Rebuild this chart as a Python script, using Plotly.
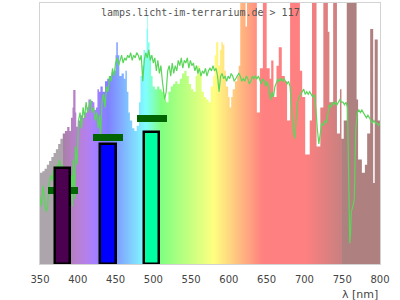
import plotly.graph_objects as go

# ---------------- data ----------------
spec_nm = [350, 353, 356, 359, 362, 365, 368, 371, 374, 377, 380, 383, 386, 389, 391, 393, 394, 397, 398,
           400, 403, 406, 409, 412, 414, 417, 420, 422, 424, 426, 428, 430, 433, 436, 439, 442, 445, 448,
           450, 451, 453, 455, 458, 461, 463, 465, 467, 469, 472, 475, 478, 481, 483, 485, 487, 489, 491,
           492, 493, 495, 497, 499, 502, 505, 508, 511, 514, 517, 520, 523, 526, 529, 532, 535, 538, 541,
           544, 547, 550, 553, 556, 558, 561, 564, 567, 570, 573, 576, 579, 581, 583, 586, 588, 590, 592,
           594, 596, 599, 601, 603, 605, 608, 611, 613, 615, 622, 624, 632, 637, 641, 645, 650, 654, 656,
           659, 663, 666, 670, 674, 677, 681, 694, 697, 701, 707, 710, 716, 721, 725, 731, 733, 738, 743,
           747, 749, 752, 756, 769, 771, 776, 780, 783, 787, 791, 793, 797, 800]
spec_val = [35, 35.5, 36.5, 38, 39.5, 41, 42.5, 44, 46, 48, 50, 51, 52.5, 51, 56, 60, 66.7, 58, 52.6,
            55, 57, 56, 58, 60, 63, 62.5, 62, 59, 60, 67, 66, 68, 66, 70, 71, 72, 73.5, 74,
            80, 85, 80, 72, 73, 71, 74, 66, 58, 55, 52, 51, 53, 62, 72, 76, 82, 80, 90,
            95, 85, 80, 72, 68, 67, 68, 67, 66, 63, 62, 66, 68, 69, 70, 69, 71, 73, 74,
            72, 69, 67, 66, 72, 76, 73, 66, 64, 63, 62, 68, 72, 80, 85, 76, 82, 85, 84,
            74, 68, 64, 60, 64, 67, 70, 72, 76, 110, 91, 110, 110, 58, 75, 110, 75, 71, 78,
            64, 76, 83, 72, 70, 55, 110, 74, 64, 42, 55, 110, 45, 60, 110, 89, 62, 110, 50,
            67, 48, 55, 110, 63, 40, 35, 38, 50, 90, 31, 86, 55, 55]

ref_nm = [350, 352, 354, 356, 358, 360, 362, 364, 366, 368, 370, 372, 374, 376, 378, 380, 382, 384, 386, 388,
          390, 392, 393, 394, 396, 397, 399, 401, 403, 405, 407, 409, 411, 413, 415, 417, 419, 421, 423, 425,
          427, 429, 430, 432, 434, 436, 438, 440, 442, 444, 446, 448, 450, 452, 454, 456, 458, 460, 462, 464,
          466, 468, 470, 472, 474, 476, 478, 480, 482, 484, 486, 488, 490, 492, 494, 496, 498, 500, 502, 504,
          506, 508, 510, 512, 515, 517, 519, 521, 523, 525, 527, 529, 531, 533, 535, 537, 539, 541, 543, 545,
          547, 549, 551, 553, 555, 557, 559, 561, 563, 565, 567, 569, 571, 573, 575, 577, 579, 581, 583, 585,
          587, 589, 591, 593, 595, 597, 599, 601, 603, 605, 607, 609, 611, 613, 615, 617, 619, 621, 623, 625,
          627, 629, 631, 633, 635, 637, 639, 641, 643, 645, 647, 649, 651, 653, 655, 657, 659, 661, 663, 665,
          667, 669, 671, 673, 675, 677, 679, 681, 683, 685, 687, 689, 691, 693, 695, 697, 699, 701, 703, 705,
          707, 709, 711, 713, 715, 717, 719, 721, 723, 725, 727, 729, 731, 733, 735, 737, 739, 741, 743, 745,
          747, 749, 751, 753, 755, 757, 759, 760, 761, 762, 764, 766, 767, 768, 770, 772, 774, 776, 778, 780,
          782, 784, 786, 788, 790, 792, 794, 796, 798, 800]
ref_val = [26, 22, 30, 24, 20, 22, 30, 34, 32, 36, 33, 38, 36, 40, 35, 38, 30, 36, 28, 34,
           20, 34, 22, 40, 25, 45, 38, 55, 58, 52, 60, 56, 62, 58, 60, 63, 58, 60, 55, 58,
           52, 57, 48, 62, 65, 60, 68, 66, 72, 70, 75, 72, 77, 79, 76, 78, 80, 77, 79, 78,
           80, 79, 81, 78, 80, 79, 81, 80, 78, 80, 70, 78, 81, 79, 82, 78, 80, 77, 79, 74,
           78, 73, 76, 70, 63, 66, 74, 76, 72, 77, 73, 76, 74, 78, 76, 79, 75, 78, 77, 79,
           75, 78, 76, 77, 74, 76, 73, 75, 72, 74, 73, 75, 72, 74, 75, 74, 76, 74, 75, 72,
           66, 72, 73, 71, 72, 70, 72, 71, 73, 72, 70, 71, 72, 73, 72, 70, 71, 70, 72, 71,
           69, 70, 72, 71, 72, 71, 72, 70, 69, 71, 70, 68, 70, 67, 63, 66, 64, 68, 70, 71,
           70, 71, 70, 71, 70, 69, 70, 68, 60, 52, 48, 55, 62, 64, 65, 66, 67, 65, 66, 65,
           66, 65, 64, 65, 60, 52, 46, 50, 54, 53, 55, 54, 58, 61, 60, 62, 61, 62, 61, 62,
           63, 62, 62, 61, 62, 60, 30, 8, 12, 20, 22, 25, 40, 52, 58, 59, 58, 59, 58, 57,
           56, 57, 56, 55, 54, 55, 54, 54, 53, 54]

band_center = [380, 440, 498]
band_width = [20, 20, 20]
band_value = [36.9, 46.1, 50.5]
band_colors = ["rgb(75,0,80)", "rgb(0,0,255)", "rgb(0,255,160)"]

mark_value = [28.2, 48.5, 55.7]
mark_width = [40, 40, 40]

x_ticks = [350, 400, 450, 500, 550, 600, 650, 700, 750, 800]
title_text = "lamps.licht-im-terrarium.de > 117"
x_label = "λ [nm]"

X_MIN, X_MAX = 350, 800
Y_MIN, Y_MAX = 0, 100


# ---------------- colour of each wavelength ----------------
def wl_color(w):
    if w < 380:
        return (172, 165, 172)
    if w >= 750:
        return (175, 128, 128)
    if w < 440:
        r, g, b = -(w - 440) / 60.0, 0.0, 1.0
    elif w < 490:
        r, g, b = 0.0, (w - 440) / 50.0, 1.0
    elif w < 510:
        r, g, b = 0.0, 1.0, -(w - 510) / 20.0
    elif w < 580:
        r, g, b = (w - 510) / 70.0, 1.0, 0.0
    elif w < 645:
        r, g, b = 1.0, -(w - 645) / 65.0, 0.0
    else:
        r, g, b = 1.0, 0.0, 0.0
    if w < 420:
        f = 0.3 + 0.7 * (w - 380) / 40.0
    elif w > 700:
        f = 0.3 + 0.7 * (780 - w) / 80.0
    else:
        f = 1.0
    return tuple(int(round(127.5 + 127.5 * c * f)) for c in (r, g, b))


stops = [w for w in range(350, 801, 2)] + [379.9, 749.9]
stops = sorted(set(stops))
cscale = []
for w in stops:
    c = wl_color(w)
    cscale.append([(w - X_MIN) / (X_MAX - X_MIN), "rgb(%d,%d,%d)" % c])

fig = go.Figure()

# spectrum filled with rainbow gradient
fig.add_trace(go.Scatter(
    x=spec_nm, y=spec_val, mode="lines", line=dict(width=0, shape="hv"),
    fill="tozeroy",
    fillgradient=dict(type="horizontal", colorscale=cscale, start=X_MIN, stop=X_MAX),
    hoverinfo="skip", showlegend=False))

# reference green curve
fig.add_trace(go.Scatter(
    x=ref_nm, y=ref_val, mode="lines", line=dict(color="rgb(90,214,90)", width=1.2),
    showlegend=False))

# markers (dark green) and bars on overlay axes so they sit on top
mark_thick = 2.7
fig.add_trace(go.Bar(
    x=band_center, y=[mark_thick] * len(mark_value),
    base=[v - mark_thick / 2 for v in mark_value], width=mark_width,
    marker=dict(color="rgb(0,100,0)", line=dict(width=0)),
    xaxis="x2", yaxis="y2", showlegend=False))
fig.add_trace(go.Bar(
    x=band_center, y=band_value, width=band_width,
    marker=dict(color=band_colors, line=dict(color="black", width=2.5)),
    xaxis="x2", yaxis="y2", showlegend=False))

fig.add_annotation(
    text=title_text, xref="paper", yref="paper", x=0.472, y=0.9655,
    xanchor="center", yanchor="middle", showarrow=False,
    font=dict(family="DejaVu Sans Mono", size=10, color="#555555"))
fig.add_annotation(
    text=x_label, xref="paper", yref="paper", x=1.0, y=-0.117,
    xanchor="right", yanchor="middle", showarrow=False,
    font=dict(family="DejaVu Sans", size=11, color="#444444"))

fig.update_layout(
    width=400, height=300,
    margin=dict(l=40, r=20, t=3, b=36),
    paper_bgcolor="white", plot_bgcolor="white",
    barmode="overlay", bargap=0,
    xaxis=dict(range=[X_MIN, X_MAX], tickvals=x_ticks, ticks="", showgrid=False, zeroline=False,
               showline=True, mirror=True, linecolor="#d3d3d3", linewidth=1,
               tickfont=dict(family="DejaVu Sans", size=10, color="#444444"),
               ticklabelstandoff=6),
    yaxis=dict(range=[Y_MIN, Y_MAX], showticklabels=False, ticks="", showgrid=False, zeroline=False,
               showline=True, mirror=True, linecolor="#d3d3d3", linewidth=1),
    xaxis2=dict(range=[X_MIN, X_MAX], overlaying="x", visible=False),
    yaxis2=dict(range=[Y_MIN, Y_MAX], overlaying="y", visible=False),
)

fig.write_html("out.html")
